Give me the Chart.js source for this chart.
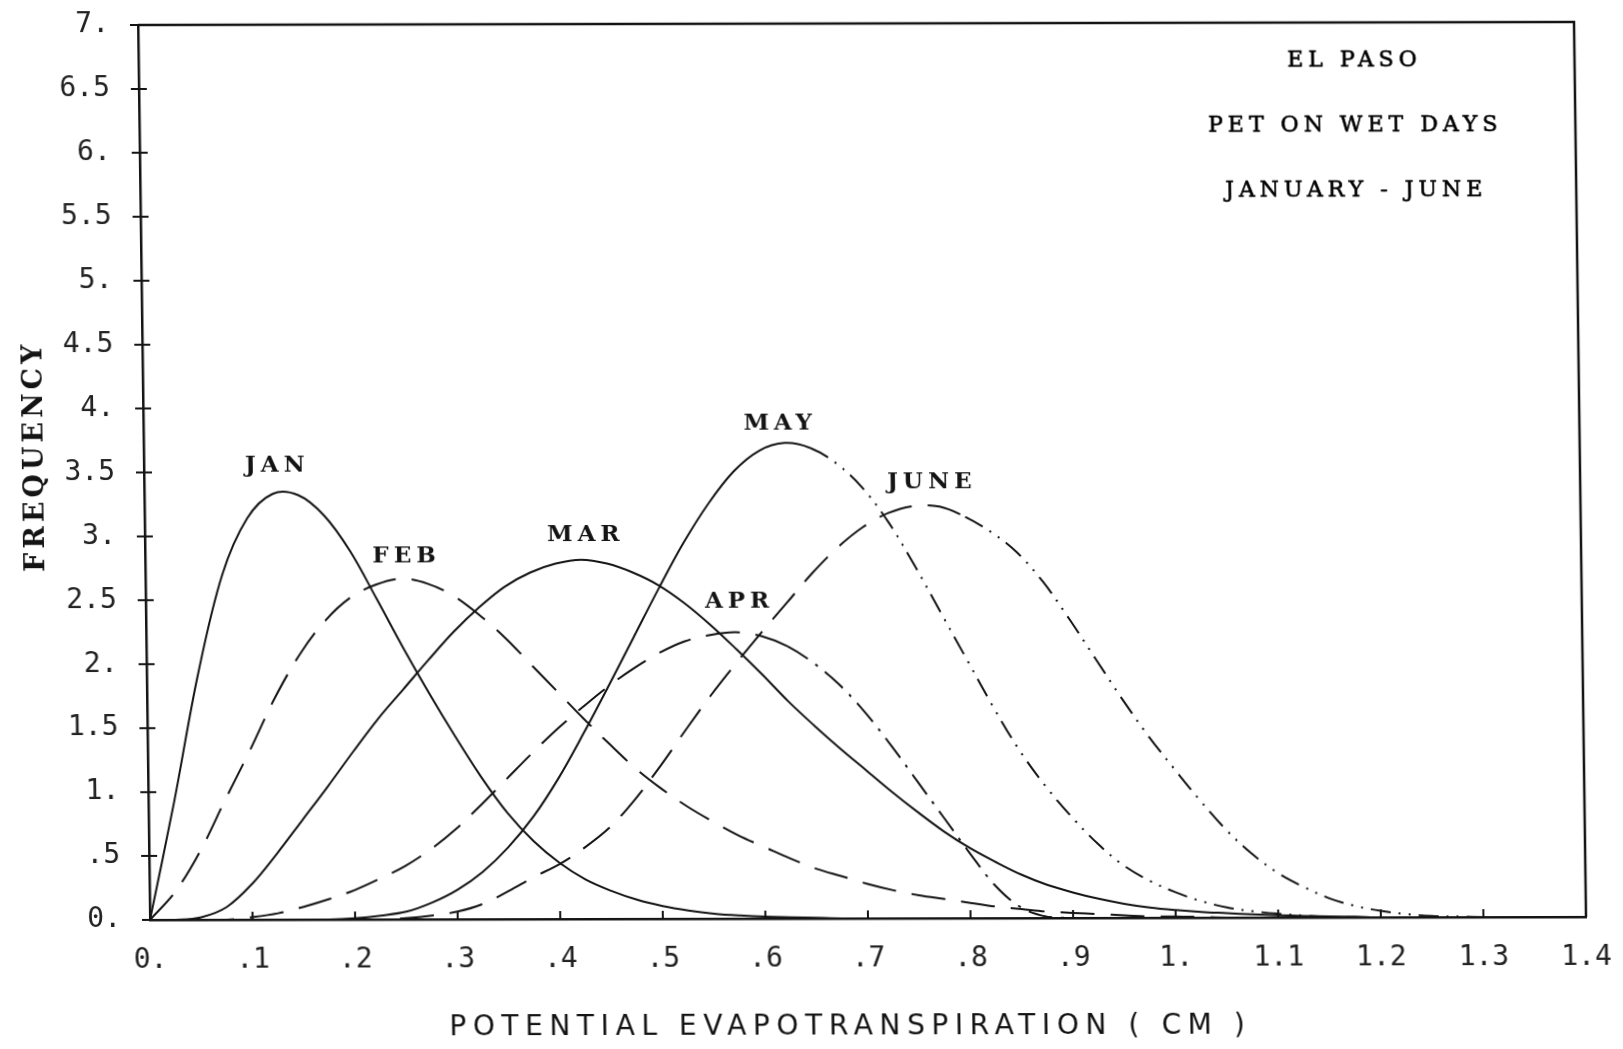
<!DOCTYPE html>
<html>
<head>
<meta charset="utf-8">
<title>El Paso - PET on wet days</title>
<script src="https://cdn.jsdelivr.net/npm/chart.js@4.4.1/dist/chart.umd.min.js"></script>
<style>
  html, body { margin: 0; padding: 0; background: #fff; }
  /* sheet fed a little crooked through the plotter */
  #petChart { display: block; transform-origin: 150px 920px; transform: matrix(1, -0.0021, 0.0134, 1, 0, 0); }
</style>
</head>
<body>
<canvas id="petChart" width="1623" height="1049"></canvas>
<script>
const INK = '#141414'

// potential evapotranspiration (cm), shared x grid for every month
const petCm = [0, 0.025, 0.05, 0.075, 0.1, 0.125, 0.15, 0.175, 0.2, 0.225,
  0.25, 0.275, 0.3, 0.325, 0.35, 0.375, 0.4, 0.425, 0.45, 0.475,
  0.5, 0.525, 0.55, 0.575, 0.6, 0.625, 0.65, 0.675, 0.7, 0.725,
  0.75, 0.775, 0.8, 0.825, 0.85, 0.875, 0.9, 0.925, 0.95, 0.975,
  1.0, 1.025, 1.05, 1.075, 1.1, 1.125, 1.15, 1.175, 1.2, 1.225,
  1.25, 1.275, 1.3, 1.325, 1.35, 1.375, 1.4]

// frequency curves
const jan = [0, 0.92, 1.92, 2.70, 3.14, 3.33, 3.32, 3.16, 2.88, 2.51,
  2.13, 1.77, 1.43, 1.11, 0.83, 0.61, 0.44, 0.31, 0.22, 0.15,
  0.10, 0.065, 0.04, 0.025, 0.015, 0.01, 0.005, 0, 0, 0,
  0, 0, 0, 0, 0, 0, 0, 0, 0, 0,
  0, 0, 0, 0, 0, 0, 0, 0, 0, 0,
  0, 0, 0, 0, 0, 0, 0]
const feb = [0, 0.22, 0.54, 0.94, 1.33, 1.74, 2.08, 2.34, 2.52, 2.62,
  2.665, 2.625, 2.53, 2.38, 2.20, 1.99, 1.78, 1.57, 1.37, 1.18,
  1.02, 0.88, 0.76, 0.65, 0.56, 0.47, 0.39, 0.33, 0.27, 0.22,
  0.18, 0.15, 0.12, 0.09, 0.07, 0.05, 0.04, 0.03, 0.02, 0.01,
  0.01, 0.005, 0, 0, 0, 0, 0, 0, 0, 0,
  0, 0, 0, 0, 0, 0, 0]
const mar = [0, 0, 0.02, 0.10, 0.28, 0.52, 0.78, 1.04, 1.31, 1.57,
  1.80, 2.03, 2.25, 2.44, 2.60, 2.71, 2.78, 2.81, 2.78, 2.71,
  2.61, 2.47, 2.30, 2.11, 1.91, 1.70, 1.51, 1.33, 1.16, 0.99,
  0.83, 0.68, 0.55, 0.44, 0.34, 0.26, 0.20, 0.15, 0.11, 0.08,
  0.06, 0.045, 0.035, 0.025, 0.018, 0.012, 0.008, 0.005, 0, 0,
  0, 0, 0, 0, 0, 0, 0]
const apr = [0, 0, 0, 0, 0.02, 0.05, 0.10, 0.16, 0.23, 0.32,
  0.42, 0.55, 0.71, 0.90, 1.10, 1.30, 1.49, 1.66, 1.82, 1.96,
  2.08, 2.17, 2.22, 2.24, 2.21, 2.13, 2.00, 1.83, 1.61, 1.35,
  1.07, 0.79, 0.51, 0.25, 0.08, 0.01, 0, 0, 0, 0,
  0, 0, 0, 0, 0, 0, 0, 0, 0, 0,
  0, 0, 0, 0, 0, 0, 0]
const may = [0, 0, 0, 0, 0, 0, 0, 0, 0.01, 0.03,
  0.06, 0.13, 0.23, 0.37, 0.56, 0.80, 1.10, 1.45, 1.82, 2.20,
  2.58, 2.94, 3.25, 3.50, 3.66, 3.72, 3.68, 3.56, 3.37, 3.10,
  2.76, 2.39, 2.02, 1.65, 1.31, 1.03, 0.79, 0.58, 0.41, 0.29,
  0.20, 0.13, 0.08, 0.05, 0.03, 0.015, 0.005, 0, 0, 0,
  0, 0, 0, 0, 0, 0, 0]
const june = [0, 0, 0, 0, 0, 0, 0, 0, 0, 0,
  0.01, 0.03, 0.06, 0.12, 0.22, 0.33, 0.43, 0.56, 0.72, 0.94,
  1.20, 1.48, 1.75, 2.00, 2.24, 2.47, 2.70, 2.90, 3.06, 3.17,
  3.225, 3.22, 3.14, 3.02, 2.86, 2.63, 2.34, 2.03, 1.72, 1.43,
  1.17, 0.92, 0.69, 0.50, 0.35, 0.24, 0.15, 0.09, 0.05, 0.025,
  0.01, 0.005, 0, 0, 0, 0, 0]

const months = ['JAN', 'FEB', 'MAR', 'APR', 'MAY', 'JUNE']
// where each month name is written (cm, frequency)
const labelCm = [0.128, 0.253, 0.428, 0.577, 0.619, 0.766]
const labelFreq = [3.55, 2.84, 3.00, 2.48, 3.87, 3.41]

const xTicks = [0, 0.1, 0.2, 0.3, 0.4, 0.5, 0.6, 0.7, 0.8, 0.9, 1.0, 1.1, 1.2, 1.3, 1.4]
const xTickLabels = ['0.', '.1', '.2', '.3', '.4', '.5', '.6', '.7', '.8', '.9', '1.', '1.1', '1.2', '1.3', '1.4']
const yTicks = [0, 0.5, 1, 1.5, 2, 2.5, 3, 3.5, 4, 4.5, 5, 5.5, 6, 6.5, 7]
const yTickLabels = ['0.', '.5', '1.', '1.5', '2.', '2.5', '3.', '3.5', '4.', '4.5', '5.', '5.5', '6.', '6.5', '7.']

const titleLines = ['EL PASO', 'PET ON WET DAYS', 'JANUARY - JUNE']
const xTitle = 'POTENTIAL EVAPOTRANSPIRATION ( CM )'
const yTitle = 'FREQUENCY'

// pen patterns
const solid = []
const longDash = [34, 16]
const dashDot = [24, 9, 3, 9]
const dashDotDot = [20, 8, 2, 8, 2, 8]

// pattern switches once the curve passes `splitAt`
function penFrom(splitAt, before, after) {
  return ctx => petCm[ctx.p0DataIndex] >= splitAt ? after : before
}

const curves = [
  {values: jan, pen: penFrom(9, solid, solid)},
  {values: feb, pen: penFrom(9, longDash, longDash)},
  {values: mar, pen: penFrom(9, solid, solid)},
  {values: apr, pen: penFrom(0.625, longDash, dashDot)},
  {values: may, pen: penFrom(0.65, solid, dashDotDot)},
  {values: june, pen: penFrom(0.8, longDash, dashDotDot)}
]

const TICK_FONT = {family: "'DejaVu Sans Mono', monospace", size: 28}

const annotate = {
  id: 'annotate',
  afterDraw(chart) {
    const {ctx, chartArea: a, scales: {x, y}} = chart
    ctx.save()
    ctx.strokeStyle = INK
    ctx.fillStyle = INK

    // top and right edges of the frame
    ctx.lineWidth = 2.5
    ctx.beginPath()
    ctx.moveTo(a.left, a.top)
    ctx.lineTo(a.right, a.top)
    ctx.lineTo(a.right, a.bottom)
    ctx.stroke()

    // tick marks: across the y axis, inward on the x axis
    ctx.lineWidth = 2
    ctx.beginPath()
    y.ticks.forEach(t => {
      const py = y.getPixelForValue(t.value)
      ctx.moveTo(a.left - 8, py)
      ctx.lineTo(a.left + 8, py)
    })
    x.ticks.forEach(t => {
      const px = x.getPixelForValue(t.value)
      ctx.moveTo(px, a.bottom)
      ctx.lineTo(px, a.bottom - 8)
    })
    ctx.stroke()

    ctx.textAlign = 'center'
    ctx.textBaseline = 'middle'

    // month names on the curves
    ctx.font = "bold 23px 'DejaVu Serif'"
    ctx.letterSpacing = '5px'
    months.forEach((m, i) => {
      ctx.fillText(m, x.getPixelForValue(labelCm[i]) + 2, y.getPixelForValue(labelFreq[i]))
    })

    // station block, upper right (pen drawn a touch heavier)
    ctx.fillStyle = '#000'
    ctx.strokeStyle = '#000'
    ctx.lineWidth = 0.6
    ctx.font = "22px 'DejaVu Serif'"
    titleLines.forEach((t, i) => {
      const ty = a.top + 38 + i * 65
      ctx.fillText(t, a.right - 220, ty)
      ctx.strokeText(t, a.right - 220, ty)
    })

    // axis titles
    ctx.fillStyle = INK
    ctx.font = "28px 'DejaVu Sans'"
    ctx.letterSpacing = '6.6px'
    ctx.fillText(xTitle, 849, 1029)

    ctx.translate(42, 458)
    ctx.rotate(-Math.PI / 2)
    ctx.font = "bold 27px 'DejaVu Serif'"
    ctx.letterSpacing = '4px'
    ctx.fillText(yTitle, 2, 0)
    ctx.restore()
  }
}

new Chart(document.getElementById('petChart'), {
  type: 'line',
  data: {
    datasets: curves.map((c, i) => ({
      label: months[i],
      data: petCm.map((cm, k) => ({x: cm, y: c.values[k]})),
      borderColor: INK,
      borderWidth: 2,
      pointRadius: 0,
      fill: false,
      tension: 0.35,
      segment: {borderDash: c.pen}
    }))
  },
  options: {
    responsive: false,
    animation: false,
    devicePixelRatio: 1,
    layout: {padding: {top: 25, right: 37, left: 0, bottom: 0}},
    plugins: {legend: {display: false}, tooltip: {enabled: false}},
    scales: {
      x: {
        type: 'linear',
        min: 0,
        max: 1.4,
        afterFit: s => {
          s.height = 129
          s.paddingLeft = 0
          s.paddingRight = 0
        },
        afterBuildTicks: s => { s.ticks = xTicks.map(v => ({value: v})) },
        grid: {display: false},
        border: {display: true, color: INK, width: 2.5},
        ticks: {
          autoSkip: false,
          maxRotation: 0,
          padding: 16,
          color: '#222',
          font: TICK_FONT,
          callback: (v, i) => xTickLabels[i]
        }
      },
      y: {
        min: 0,
        max: 7,
        afterFit: s => {
          s.width = 150
          s.paddingTop = 0
          s.paddingBottom = 0
        },
        afterBuildTicks: s => { s.ticks = yTicks.map(v => ({value: v})) },
        grid: {display: false},
        border: {display: true, color: INK, width: 2.5},
        ticks: {
          autoSkip: false,
          padding: 21,
          color: '#222',
          font: TICK_FONT,
          callback: (v, i) => yTickLabels[i]
        }
      }
    }
  },
  plugins: [annotate]
})
</script>
</body>
</html>
